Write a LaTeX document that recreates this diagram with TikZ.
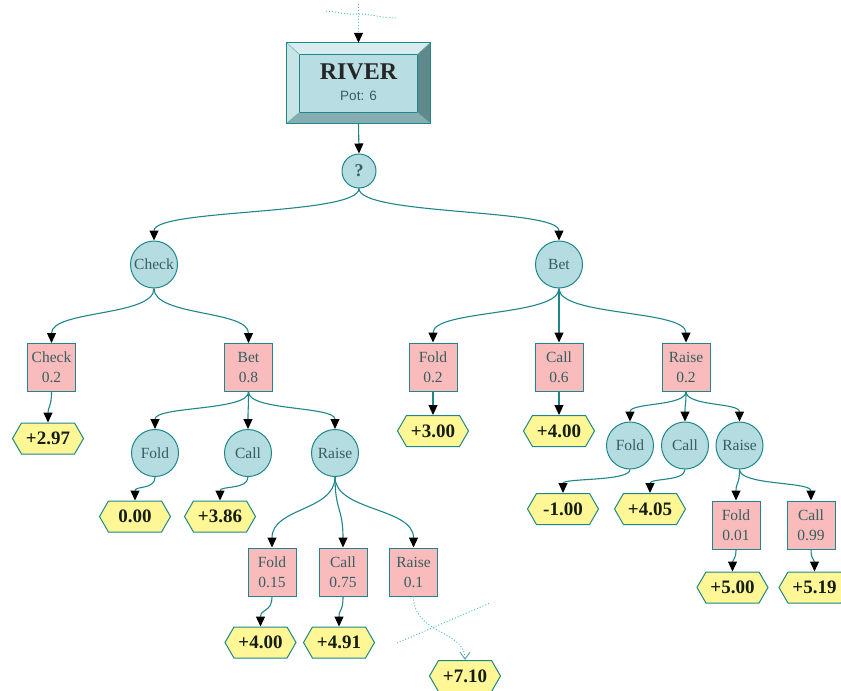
\documentclass[tikz,border=0pt]{standalone}
\usepackage{fontspec}
\setmainfont{Liberation Serif}
\newfontfamily\potfont{Liberation Sans}
\usetikzlibrary{shapes.symbols,arrows.meta,calc}

\definecolor{edgeteal}{RGB}{30,135,138}
\definecolor{crossteal}{RGB}{90,190,195}
\definecolor{chancefill}{RGB}{180,220,225}
\definecolor{actfill}{RGB}{249,187,187}
\definecolor{valfill}{RGB}{255,246,150}
\definecolor{labeltext}{RGB}{55,95,97}
\definecolor{valtext}{RGB}{20,30,20}
\definecolor{bevtop}{RGB}{214,236,239}
\definecolor{bevleft}{RGB}{200,228,231}
\definecolor{bevright}{RGB}{96,137,140}
\definecolor{bevbottom}{RGB}{135,173,176}
\definecolor{rivfill}{RGB}{184,221,226}

\tikzset{
  chance/.style={circle, draw=edgeteal, line width=1pt, fill=chancefill,
    minimum size=47pt, inner sep=0pt, text=labeltext, font=\fontsize{15.5}{17}\selectfont},
  act/.style={rectangle, draw=edgeteal, line width=1pt, fill=actfill,
    minimum width=48pt, minimum height=48pt, inner sep=0pt, align=center,
    text=labeltext, font=\fontsize{15.5}{20}\selectfont},
  payoff/.style={signal, signal to=east and west, signal pointer angle=120,
    draw=edgeteal, line width=1pt, fill=valfill, minimum width=71pt,
    minimum height=31pt, inner sep=1pt, text=valtext,
    font=\bfseries\fontsize{19}{21}\selectfont},
  edge/.style={draw=edgeteal, line width=1.1pt,
    -{Triangle[length=10pt,width=9pt,fill=black,color=black]}},
  cutedge/.style={draw=crossteal, line width=1pt, dotted,
    -{Straight Barb[length=7pt,width=10pt,color=edgeteal!70]}},
  crossline/.style={draw=crossteal, line width=1pt, dotted},
}

% parent -> child spline, leaving straight down and arriving straight down
\newcommand\link[5][]{\draw[edge,#1] (#2.south) .. controls +(0,-#4) and +(0,#5) .. (#3.north);}

\begin{document}
\begin{tikzpicture}[x=1pt,y=1pt]
\useasboundingbox (0,0) rectangle (841,-691);

% ---------- root: bevelled RIVER box ----------
\node[rectangle, minimum width=143pt, minimum height=80pt, inner sep=0pt] (river) at (358.5,-83) {};
\coordinate (inNW) at ($(river.north west)+(13,-12)$);
\coordinate (inNE) at ($(river.north east)+(-13,-12)$);
\coordinate (inSW) at ($(river.south west)+(13,11)$);
\coordinate (inSE) at ($(river.south east)+(-13,11)$);
\fill[bevtop] (river.north west) -- (river.north east) -- (inNE) -- (inNW) -- cycle;
\fill[bevleft] (river.north west) -- (inNW) -- (inSW) -- (river.south west) -- cycle;
\fill[bevright] (river.north east) -- (river.south east) -- (inSE) -- (inNE) -- cycle;
\fill[bevbottom] (river.south west) -- (inSW) -- (inSE) -- (river.south east) -- cycle;
\fill[rivfill] (inNW) rectangle (inSE);
\draw[edgeteal, line width=0.8pt] (river.north west) rectangle (river.south east);
\draw[edgeteal, line width=0.8pt] (inNW) rectangle (inSE);
\draw[edgeteal!70, line width=0.5pt] (river.north west) -- (inNW) (river.north east) -- (inNE)
  (river.south west) -- (inSW) (river.south east) -- (inSE);
\node[font=\bfseries\fontsize{24}{26}\selectfont, text=black!85] (rivertitle) at (358.5,-72) {RIVER};
\node[font=\potfont\fontsize{13.5}{15}\selectfont, text=labeltext] (riverpot) at (358.5,-96) {Pot: 6};

% cut incoming branch above the root
\coordinate (entry) at (358.5,-4);
\coordinate (cutA) at (326,-11);
\coordinate (cutM) at (358,-14);
\coordinate (cutB) at (397,-18);
\draw[crossline] (cutA) .. controls (340,-12) and (345,-15) .. (cutM) .. controls (372,-14) and (380,-18) .. (cutB);
\draw[draw=crossteal, line width=1pt, dotted] (entry) -- ($(river.north)+(0,10)$) coordinate (entryend);
\draw[edge] (entryend) -- (river.north);

% ---------- first decision ----------
\node[chance, minimum size=34pt, font=\bfseries\fontsize{18}{20}\selectfont] (q) at (359,-171) {?};
\draw[edge] (river.south) -- (q.north);

\node[chance] (check) at (154,-264.5) {Check};
\node[chance] (bet)   at (559,-264.5) {Bet};
\link{q}{check}{27}{32}
\link{q}{bet}{27}{32}

% ---------- Check branch ----------
\node[act] (chk_chk) at (51.5,-367.5) {Check\\0.2};
\node[act] (chk_bet) at (248.5,-367.5) {Bet\\0.8};
\link{check}{chk_chk}{28}{33}
\link{check}{chk_bet}{28}{33}

\node[payoff] (v297) at (48,-438.5) {+2.97};
\link{chk_chk}{v297}{15}{16}

\node[chance] (cb_fold)  at (155,-453) {Fold};
\node[chance] (cb_call)  at (248,-453) {Call};
\node[chance] (cb_raise) at (335,-453) {Raise};
\link{chk_bet}{cb_fold}{19}{23}
\link{chk_bet}{cb_call}{19}{23}
\link{chk_bet}{cb_raise}{19}{23}

\node[payoff] (v000) at (135,-516.5) {0.00};
\node[payoff] (v386) at (220,-516.5) {+3.86};
\link{cb_fold}{v000}{13}{15}
\link{cb_call}{v386}{13}{15}

\node[act] (cr_fold)  at (272,-572) {Fold\\0.15};
\node[act] (cr_call)  at (343,-572) {Call\\0.75};
\node[act] (cr_raise) at (413.5,-572) {Raise\\0.1};
\link{cb_raise}{cr_fold}{34}{40}
\link{cb_raise}{cr_call}{34}{40}
\link{cb_raise}{cr_raise}{34}{40}

\node[payoff] (v400a) at (260.5,-642.5) {+4.00};
\node[payoff] (v491)  at (339,-642.5) {+4.91};
\node[payoff] (v710)  at (465,-676) {+7.10};
\link{cr_fold}{v400a}{16}{18}
\link{cr_call}{v491}{16}{18}
\draw[cutedge] (cr_raise.south) .. controls +(0,-38) and +(0,30) .. (v710.north);
\coordinate (cutC) at (397,-643);
\coordinate (cutD) at (490,-603);
\draw[crossline] (cutC) -- (cutD);

% ---------- Bet branch ----------
\node[act] (bt_fold)  at (433,-367) {Fold\\0.2};
\node[act] (bt_call)  at (559,-367) {Call\\0.6};
\node[act] (bt_raise) at (686,-367) {Raise\\0.2};
\link{bet}{bt_fold}{28}{33}
\link{bet}{bt_call}{28}{33}
\link{bet}{bt_raise}{28}{33}

\node[payoff] (v300)  at (433,-431) {+3.00};
\node[payoff] (v400b) at (559,-431) {+4.00};
\link{bt_fold}{v300}{12}{14}
\link{bt_call}{v400b}{12}{14}

\node[chance] (br_fold)  at (630,-445.5) {Fold};
\node[chance] (br_call)  at (685,-445.5) {Call};
\node[chance] (br_raise) at (739.5,-445.5) {Raise};
\link{bt_raise}{br_fold}{15}{19}
\link{bt_raise}{br_call}{15}{19}
\link{bt_raise}{br_raise}{15}{19}

\node[payoff] (vm100) at (563,-509) {-1.00};
\node[payoff] (v405)  at (650,-509) {+4.05};
\link{br_fold}{vm100}{12}{15}
\link{br_call}{v405}{12}{15}

\node[act] (rr_fold) at (736,-525) {Fold\\0.01};
\node[act] (rr_call) at (811,-525) {Call\\0.99};
\link{br_raise}{rr_fold}{16}{19}
\link{br_raise}{rr_call}{16}{19}

\node[payoff] (v500) at (732.5,-587.5) {+5.00};
\node[payoff] (v519) at (814.5,-587.5) {+5.19};
\link{rr_fold}{v500}{11}{13}
\link{rr_call}{v519}{11}{13}
\end{tikzpicture}
\end{document}
